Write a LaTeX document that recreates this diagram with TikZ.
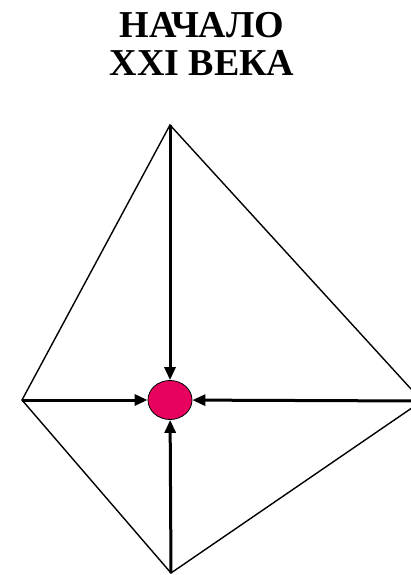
\documentclass[tikz,border=0pt]{standalone}
\usepackage{fontspec}
\setmainfont{Liberation Serif}
\usepackage{tikz}
\usetikzlibrary{shapes.geometric,arrows.meta}
\definecolor{dotred}{RGB}{232,0,94}

\begin{document}
\begin{tikzpicture}[x=1pt, y=-1pt,
        edge/.style={draw, line width=1.4pt},
        ray/.style={draw, line width=3pt, -{Triangle[length=13pt,width=11pt]}},
        core/.style={ellipse, draw, line width=0.8pt, fill=dotred, minimum width=44pt, minimum height=39pt, inner sep=0pt}]
    \useasboundingbox (0,0) rectangle (411,575);

    \node [anchor=north, inner sep=0pt, align=center, font=\fontsize{38}{38}\selectfont\bfseries] (title) at (202,12) {НАЧАЛО\\XXI ВЕКА};

    \coordinate (top) at (170,125);
    \coordinate (left) at (22,400);
    \coordinate (right) at (422,401);
    \coordinate (bottom) at (171,573);
    \node [core] (dot) at (170,400) {};

    % outline of the kite
    \draw [edge, line join=miter] (top) -- (right) -- (bottom) -- (left) -- cycle;

    % rays into the centre
    \draw [ray] (top) -- (dot);
    \draw [ray] (left) -- (dot);
    \draw [ray] (right) -- (dot);
    \draw [ray] (bottom) -- (dot);
\end{tikzpicture}
\end{document}
